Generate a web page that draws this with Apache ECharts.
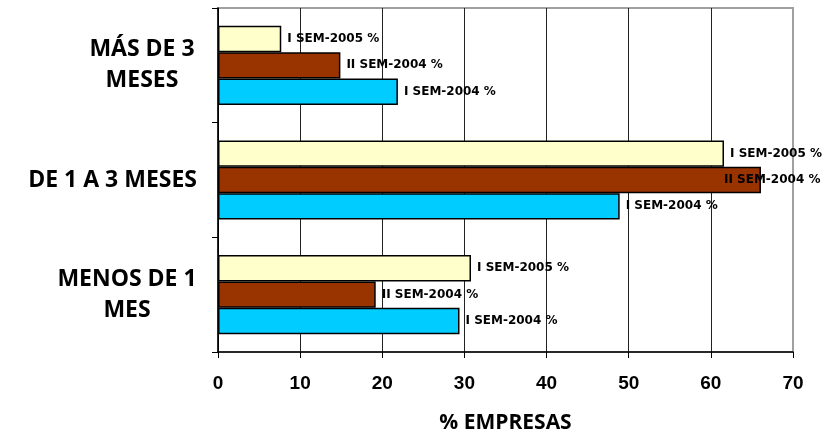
<!DOCTYPE html>
<html>
<head>
<meta charset="utf-8">
<script src="https://cdn.jsdelivr.net/npm/echarts@6/dist/echarts.min.js"></script>
<style>html,body{margin:0;padding:0;background:#fff}#c{width:823px;height:434px}</style>
</head>
<body>
<div id="c"></div>
<script>
var categories = ['MENOS DE 1\nMES', 'DE 1 A 3 MESES', 'MÁS DE 3\nMESES'];
var seriesNames = ['I SEM-2005 %', 'II SEM-2004 %', 'I SEM-2004 %'];
var semI2005 = [30.8, 61.6, 7.7];
var semII2004 = [19.2, 66.1, 14.9];
var semI2004 = [29.4, 48.9, 21.9];
var xTicks = [0, 10, 20, 30, 40, 50, 60, 70];

var colors = ['#FFFFCC', '#993300', '#00CCFF'];
var values = [semI2005, semII2004, semI2004];

var chart = echarts.init(document.getElementById('c'), null, {renderer: 'canvas'});

var labelFont = {fontFamily: 'DejaVu Sans', fontWeight: 'bold', fontSize: 12, color: '#000'};

var series = values.map(function (arr, si) {
  return {
    name: seriesNames[si],
    type: 'bar',
    barGap: '0%',
    barCategoryGap: '31%',
    itemStyle: {color: colors[si], borderColor: '#000', borderWidth: 1.5},
    label: Object.assign({show: true, position: 'right', distance: 6,
      formatter: function (p) { return p.seriesName; }}, labelFont),
    data: arr.map(function (v, ci) {
      var item = {value: v};
      if (si === 1 && ci === 1) {
        item.label = {offset: [-43, 0]};
      }
      return item;
    })
  };
});

var catWidths = [140, 0, 110];

chart.setOption({
  animation: false,
  backgroundColor: '#fff',
  grid: {left: 218, right: 30, top: 8, bottom: 82, show: true, borderColor: '#a0a0a0', borderWidth: 2,
    backgroundColor: 'transparent', containLabel: false, outerBoundsMode: 'none'},
  xAxis: {
    type: 'value', min: 0, max: 70, interval: 10,
    name: '% EMPRESAS', nameLocation: 'middle', nameGap: 61,
    nameTextStyle: {fontFamily: 'Open Sans', fontWeight: 'bold', fontSize: 21, color: '#000'},
    axisLine: {show: true, lineStyle: {color: '#000', width: 1.5}},
    axisTick: {show: true, length: 6, lineStyle: {color: '#000'}},
    axisLabel: {margin: 22, fontFamily: 'Liberation Sans', fontWeight: 'bold', fontSize: 19, color: '#000',
      formatter: function (v) { return xTicks.indexOf(v) >= 0 ? String(v) : ''; }},
    splitLine: {show: true, lineStyle: {color: ['#000', '#222', '#222', '#222', '#222', '#222', '#222', '#a0a0a0'], width: 1}}
  },
  yAxis: {
    type: 'category', data: categories,
    axisLine: {show: true, lineStyle: {color: '#000', width: 1.5}},
    axisTick: {show: true, length: 6, lineStyle: {color: '#000'}},
    splitLine: {show: false},
    axisLabel: {
      margin: 21, fontFamily: 'Open Sans', fontWeight: 'bold', fontSize: 23, color: '#000', lineHeight: 31,
      formatter: function (v, idx) {
        var lines = v.split('\n');
        if (lines.length === 1) return v;
        return lines.map(function (l) { return '{c' + idx + '|' + l + '}'; }).join('\n');
      },
      rich: {
        c0: {width: catWidths[0], align: 'center', fontFamily: 'Open Sans', fontWeight: 'bold', fontSize: 23, lineHeight: 31, color: '#000'},
        c2: {width: catWidths[2], align: 'center', fontFamily: 'Open Sans', fontWeight: 'bold', fontSize: 23, lineHeight: 31, color: '#000'}
      }
    }
  },
  series: series
});
</script>
</body>
</html>
